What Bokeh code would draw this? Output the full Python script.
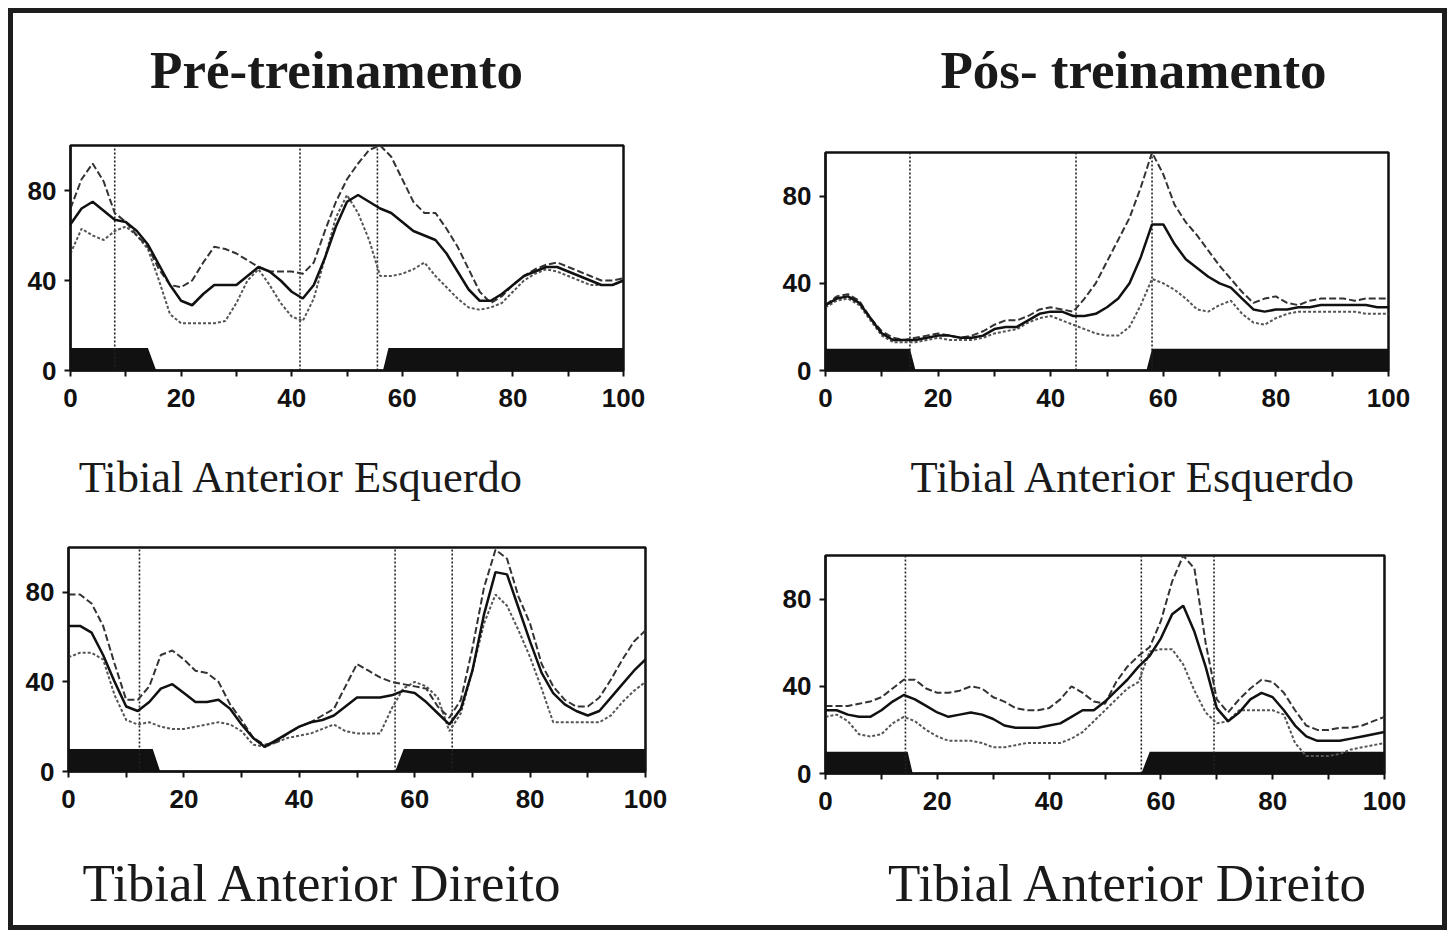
from bokeh.plotting import figure
from bokeh.models import Range1d, FixedTicker, LinearAxis
from bokeh.layouts import row, column
from bokeh.embed import file_html
from bokeh.resources import INLINE

# ---------------- data ----------------
X = list(range(0, 101, 2))  # % of gait cycle

# Pré-treinamento, Tibial Anterior Esquerdo
p1_mean = [65, 72, 75, 71, 67, 66, 62, 56, 47, 38, 31, 29, 34, 38, 38, 38, 42, 46, 44, 40, 35,
           32, 38, 50, 64, 75, 78, 75, 72, 70, 66, 62, 60, 58, 52, 44, 36, 31, 31, 34, 38,
           42, 44, 46, 46, 44, 42, 40, 38, 38, 40]
p1_hi = [72, 85, 92, 84, 70, 66, 60, 55, 45, 38, 37, 40, 48, 55, 54, 52, 49, 46, 44, 44, 44,
         43, 48, 62, 75, 85, 92, 98, 100, 95, 85, 75, 70, 70, 63, 55, 45, 35, 30, 33, 38,
         42, 45, 47, 48, 46, 44, 42, 40, 40, 41]
p1_lo = [52, 63, 60, 58, 62, 64, 60, 54, 40, 25, 21, 21, 21, 21, 22, 30, 40, 45, 38, 30, 24,
         22, 32, 50, 68, 78, 70, 58, 42, 42, 43, 45, 48, 42, 37, 32, 28, 27, 28, 30, 35,
         40, 43, 45, 44, 42, 40, 38, 38, 38, 40]
p1_fs_x = [0, 14, 15.5, 56.5, 57.5, 100]
p1_fs_y = [10, 10, 0, 0, 10, 10]
p1_events = [8, 41.5, 55.5]

# Pós-treinamento, Tibial Anterior Esquerdo
p2_mean = [30, 33, 34, 31, 24, 17, 14, 14, 14, 15, 16, 16, 15, 15, 16, 19, 20, 20, 23, 26, 27,
           27, 25, 25, 26, 29, 33, 40, 52, 67, 67, 58, 51, 47, 43, 40, 38, 33, 28, 27, 28,
           28, 29, 29, 30, 30, 30, 30, 30, 29, 29]
p2_hi = [30, 34, 35, 32, 24, 18, 15, 14, 15, 16, 17, 16, 15, 16, 18, 21, 23, 23, 25, 28, 29,
         28, 27, 33, 40, 50, 60, 70, 84, 100, 90, 76, 68, 62, 55, 48, 42, 36, 31, 33, 34,
         31, 30, 32, 33, 33, 33, 32, 33, 33, 33]
p2_lo = [29, 32, 33, 30, 23, 16, 13, 13, 13, 14, 15, 14, 14, 14, 15, 17, 18, 19, 22, 24, 25,
         23, 21, 19, 17, 16, 16, 20, 30, 42, 40, 37, 33, 28, 27, 30, 32, 26, 22, 21, 24,
         26, 27, 27, 27, 27, 27, 27, 26, 26, 26]
p2_fs_x = [0, 15, 16, 57, 58, 100]
p2_fs_y = [10, 10, 0, 0, 10, 10]
p2_events = [15, 44.5, 58]

# Pré-treinamento, Tibial Anterior Direito
p3_mean = [65, 65, 62, 52, 40, 29, 27, 31, 37, 39, 35, 31, 31, 32, 28, 21, 15, 11, 14, 17, 20,
           22, 23, 25, 29, 33, 33, 33, 34, 36, 35, 31, 26, 21, 28, 45, 70, 89, 88, 73, 58,
           44, 35, 30, 27, 25, 27, 33, 39, 45, 50]
p3_hi = [79, 79, 75, 65, 48, 32, 32, 38, 52, 54, 50, 45, 44, 40, 30, 23, 15, 12, 13, 17, 20,
         22, 25, 28, 38, 48, 45, 42, 40, 39, 38, 37, 29, 24, 32, 55, 82, 99, 95, 78, 66,
         48, 38, 32, 29, 29, 33, 41, 50, 58, 63]
p3_lo = [51, 53, 53, 50, 34, 23, 21, 22, 20, 19, 19, 20, 21, 22, 21, 18, 12, 11, 13, 15, 16,
         17, 19, 21, 18, 17, 17, 17, 28, 37, 40, 38, 33, 18, 26, 45, 66, 79, 74, 63, 51,
         37, 22, 22, 22, 22, 22, 25, 31, 36, 40]
p3_fs_x = [0, 14.6, 15.9, 56.6, 58.1, 100]
p3_fs_y = [10, 10, 0, 0, 10, 10]
p3_events = [12.3, 56.6, 66.5, 100]

# Pós-treinamento, Tibial Anterior Direito
p4_mean = [29, 29, 27, 26, 26, 29, 33, 36, 34, 31, 28, 26, 27, 28, 27, 25, 22, 21, 21, 21, 22,
           23, 26, 29, 29, 33, 38, 43, 49, 54, 62, 73, 77, 65, 49, 30, 24, 28, 34, 37, 35,
           29, 22, 17, 15, 15, 15, 16, 17, 18, 19]
p4_hi = [31, 31, 31, 32, 33, 35, 39, 43, 43, 39, 37, 37, 38, 40, 39, 35, 33, 30, 29, 29, 30,
         34, 40, 37, 33, 32, 42, 49, 54, 58, 70, 88, 100, 94, 60, 34, 28, 34, 39, 43, 42,
         37, 29, 22, 20, 20, 21, 21, 22, 24, 26]
p4_lo = [26, 27, 24, 18, 17, 18, 23, 26, 24, 20, 17, 15, 15, 15, 14, 12, 12, 13, 14, 14, 14,
         14, 16, 19, 24, 29, 34, 39, 42, 56, 57, 57, 50, 38, 28, 23, 24, 29, 29, 29, 29,
         27, 14, 8, 8, 8, 9, 11, 12, 13, 14]
p4_fs_x = [0, 14.7, 15.6, 56.5, 58, 100]
p4_fs_y = [10, 10, 0, 0, 10, 10]
p4_events = [14.3, 56.5, 69.5, 100]

Y_TICKS = [0, 40, 80]
X_TICKS = [0, 20, 40, 60, 80, 100]
X_MINOR = [10, 30, 50, 70, 90]

TITLE_FONT = "Liberation Serif"
TICK_FONT = "Liberation Sans"


def text_axis(p, side, xpos, text, size, style, standoff):
    """An axis without line or ticks whose single tick label carries a heading."""
    ax = LinearAxis(ticker=FixedTicker(ticks=[xpos], minor_ticks=[]),
                    major_label_overrides={xpos: text})
    ax.axis_line_color = None
    ax.major_tick_line_color = None
    ax.minor_tick_line_color = None
    ax.major_tick_in = 0
    ax.major_tick_out = 0
    ax.major_label_standoff = standoff
    ax.major_label_text_font = TITLE_FONT
    ax.major_label_text_font_size = size
    ax.major_label_text_font_style = style
    ax.major_label_text_color = "#1a1a1a"
    p.add_layout(ax, side)


def panel(mean, hi, lo, fs_x, fs_y, events, width, height, borders, texts):
    left, right, top, bottom = borders
    p = figure(width=width, height=height, output_backend="svg", toolbar_location=None,
               x_range=Range1d(0, 100), y_range=Range1d(0, 100),
               min_border_left=left, min_border_right=right,
               min_border_top=top, min_border_bottom=bottom,
               background_fill_color="white", border_fill_color="white")
    p.xgrid.visible = False
    p.ygrid.visible = False
    p.outline_line_color = "#111111"
    p.outline_line_width = 2.5

    # stance (footswitch) bar
    p.varea(x=fs_x, y1=[0] * len(fs_x), y2=fs_y, fill_color="#111111")
    # event lines
    p.segment(x0=events, y0=[0] * len(events), x1=events, y1=[100] * len(events),
              line_color="#222222", line_width=1.6, line_dash="2 2")
    # envelopes and mean
    p.line(X, lo, line_color="#555555", line_width=2.0, line_dash="3 2")
    p.line(X, hi, line_color="#333333", line_width=2.0, line_dash="7 3")
    p.line(X, mean, line_color="#111111", line_width=2.5)

    for ax in (p.xaxis, p.yaxis):
        ax.axis_line_color = "#111111"
        ax.axis_line_width = 2
        ax.major_tick_line_color = "#111111"
        ax.major_tick_line_width = 2
        ax.major_tick_in = 0
        ax.major_tick_out = 6
        ax.major_label_text_font = TICK_FONT
        ax.major_label_text_font_style = "bold"
        ax.major_label_text_font_size = "26px"
        ax.major_label_text_color = "#111111"
    p.xaxis.ticker = FixedTicker(ticks=X_TICKS, minor_ticks=X_MINOR)
    p.xaxis.minor_tick_line_color = "#111111"
    p.xaxis.minor_tick_line_width = 2
    p.xaxis.minor_tick_in = 0
    p.xaxis.minor_tick_out = 6
    p.xaxis.major_label_standoff = 12
    p.yaxis.ticker = FixedTicker(ticks=Y_TICKS)
    p.yaxis.minor_tick_line_color = None
    p.yaxis.major_label_standoff = 8

    for (side, xpos, txt, size, style, standoff) in texts:
        text_axis(p, side, xpos, txt, size, style, standoff)
    return p


p1 = panel(p1_mean, p1_hi, p1_lo, p1_fs_x, p1_fs_y, p1_events, 727, 502, (57, 117, 132, 145),
           [("above", 48.1, "Pré-treinamento", "53px", "bold", 47),
            ("below", 41.8, "Tibial Anterior Esquerdo", "44.5px", "normal", 42)])
p2 = panel(p2_mean, p2_hi, p2_lo, p2_fs_x, p2_fs_y, p2_events, 702, 502, (85, 54, 139, 145),
           [("above", 54.7, "Pós- treinamento", "53px", "bold", 54),
            ("below", 54.7, "Tibial Anterior Esquerdo", "44.5px", "normal", 42)])
p3 = panel(p3_mean, p3_hi, p3_lo, p3_fs_x, p3_fs_y, p3_events, 727, 410, (55, 95, 32, 154),
           [("below", 44.1, "Tibial Anterior Direito", "53px", "normal", 43)])
p4 = panel(p4_mean, p4_hi, p4_lo, p4_fs_x, p4_fs_y, p4_events, 702, 410, (85, 58, 40, 152),
           [("below", 54.2, "Tibial Anterior Direito", "53px", "normal", 41)])

layout = column(row(column(p1), column(p2), spacing=0),
                row(column(p3), column(p4), spacing=0), spacing=0,
                margin=(13, 0, 0, 13), styles={"outline": "5px solid #1d1d1d"})

open("out.html", "w").write(file_html(layout, INLINE))
